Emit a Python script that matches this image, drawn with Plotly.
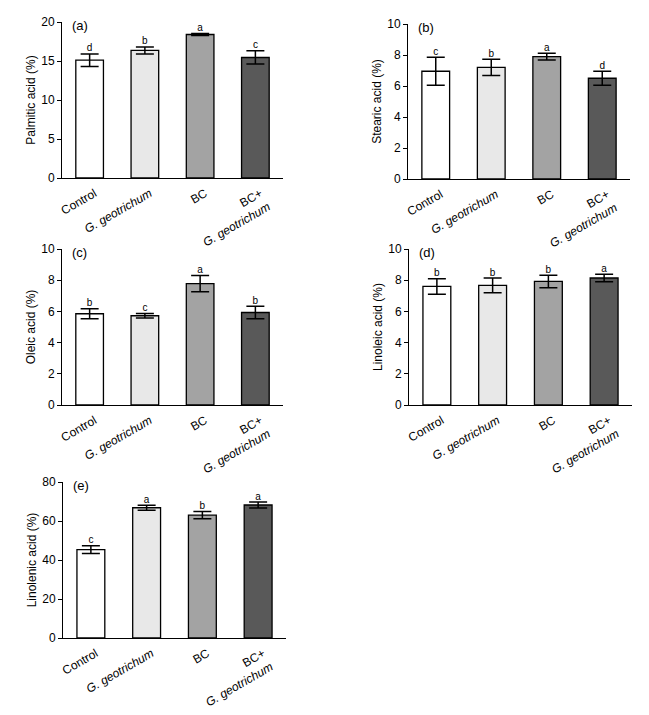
import plotly.graph_objects as go

categories = ["Control", "<i>G. geotrichum</i>", "BC", "BC+<br><i>G. geotrichum</i>"]
bar_colors = ["#ffffff", "#e8e8e8", "#a3a3a3", "#595959"]

palmitic = [15.1, 16.35, 18.4, 15.45]
palmitic_err = [0.8, 0.45, 0.12, 0.85]
palmitic_letters = ["d", "b", "a", "c"]

stearic = [6.95, 7.2, 7.9, 6.5]
stearic_err = [0.9, 0.52, 0.22, 0.45]
stearic_letters = ["c", "b", "a", "d"]

oleic = [5.85, 5.72, 7.78, 5.93]
oleic_err = [0.32, 0.15, 0.52, 0.4]
oleic_letters = ["b", "c", "a", "b"]

linoleic = [7.6, 7.67, 7.92, 8.14]
linoleic_err = [0.5, 0.47, 0.4, 0.24]
linoleic_letters = ["b", "b", "b", "a"]

linolenic = [45.3, 66.8, 63.0, 68.2]
linolenic_err = [2.0, 1.3, 1.9, 1.5]
linolenic_letters = ["c", "a", "b", "a"]

W, H = 649, 715
FONT = "Liberation Sans, Arial, sans-serif"

panels = [
    dict(vals=palmitic, err=palmitic_err, letters=palmitic_letters, label="(a)",
         title="Palmitic acid (%)", ymax=20, dtick=5, px=(62, 283), py=(22, 178)),
    dict(vals=stearic, err=stearic_err, letters=stearic_letters, label="(b)",
         title="Stearic acid (%)", ymax=10, dtick=2, px=(408, 630), py=(24, 179)),
    dict(vals=oleic, err=oleic_err, letters=oleic_letters, label="(c)",
         title="Oleic acid (%)", ymax=10, dtick=2, px=(62, 283), py=(249, 405)),
    dict(vals=linoleic, err=linoleic_err, letters=linoleic_letters, label="(d)",
         title="Linoleic acid (%)", ymax=10, dtick=2, px=(409, 632), py=(249, 405)),
    dict(vals=linolenic, err=linolenic_err, letters=linolenic_letters, label="(e)",
         title="Linolenic acid (%)", ymax=80, dtick=20, px=(63, 286), py=(482, 638)),
]

fig = go.Figure()
layout = {}
annotations = []
for i, p in enumerate(panels):
    n = "" if i == 0 else str(i + 1)
    xa, ya = "x" + n, "y" + n
    fig.add_trace(go.Bar(
        x=list(range(4)), y=p["vals"], xaxis=xa, yaxis=ya, width=0.5,
        marker=dict(color=bar_colors, line=dict(color="black", width=1.3)),
        error_y=dict(type="data", array=p["err"], visible=True, color="black",
                     thickness=1.5, width=9),
        showlegend=False, hoverinfo="skip"))
    tops = [v + e for v, e in zip(p["vals"], p["err"])]
    fig.add_trace(go.Scatter(
        x=list(range(4)), y=tops, xaxis=xa, yaxis=ya, mode="text",
        text=p["letters"], textposition="top center",
        textfont=dict(family=FONT, size=10, color="black"),
        showlegend=False, hoverinfo="skip", cliponaxis=False))
    x0, x1 = p["px"]
    y0, y1 = p["py"]
    layout["xaxis" + n] = dict(
        domain=[x0 / W, x1 / W], anchor=ya, range=[-0.5, 3.5], automargin=False,
        tickmode="array", tickvals=list(range(4)), ticktext=categories,
        tickangle=-30, showline=True, linecolor="black", linewidth=1,
        ticks="", showgrid=False, zeroline=False,
        ticklabelstandoff=3, ticklabelshift=5,
        tickfont=dict(family=FONT, size=12, color="black"))
    layout["yaxis" + n] = dict(
        domain=[1 - y1 / H, 1 - y0 / H], anchor=xa, range=[0, p["ymax"]],
        automargin=False,
        dtick=p["dtick"], showline=True, linecolor="black", linewidth=1,
        ticks="outside", ticklen=4, tickcolor="black", showgrid=False,
        zeroline=False, tickfont=dict(family=FONT, size=12, color="black"),
        title=dict(text=p["title"], font=dict(family=FONT, size=12, color="black"),
                   standoff=3))
    annotations.append(dict(
        text=p["label"], xref=xa + " domain", yref=ya + " domain",
        x=0.035, y=1.04, xanchor="left", yanchor="top", showarrow=False,
        font=dict(family=FONT, size=13, color="black")))

fig.update_layout(
    width=W, height=H, margin=dict(l=0, r=0, t=0, b=0),
    plot_bgcolor="white", paper_bgcolor="white",
    annotations=annotations, bargap=0.5, **layout)

fig.write_html("out.html", config={"displayModeBar": False},
               post_script="document.body.style.margin='0';")
